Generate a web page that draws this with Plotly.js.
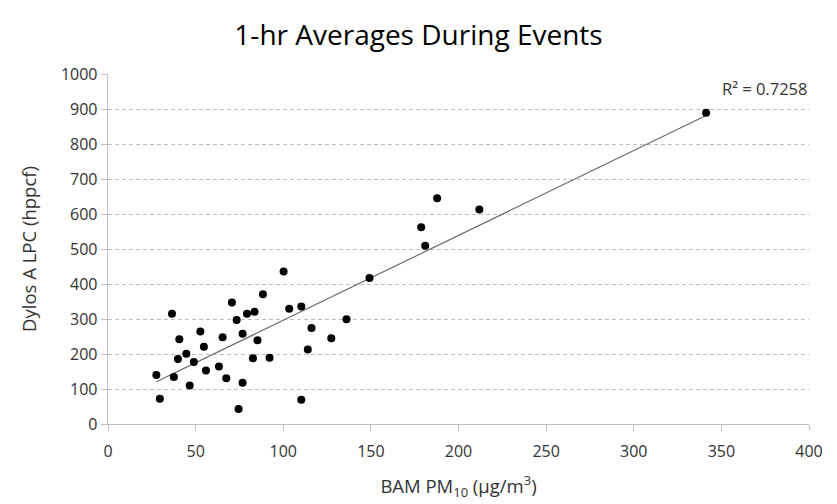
<!DOCTYPE html>
<html>
<head>
<meta charset="utf-8">
<script src="https://cdn.plot.ly/plotly-3.0.1.min.js"></script>
<style>html,body{margin:0;padding:0;background:#fff;}</style>
</head>
<body>
<div id="chart" style="width:837px;height:504px;"></div>
<script>
const bamPM10 = [27.6, 29.6, 36.5, 37.6, 39.9, 40.7, 44.7, 46.6, 49.0, 52.7,
  54.7, 55.9, 63.3, 65.4, 67.5, 70.7, 73.4, 74.5, 76.8, 76.8,
  79.3, 83.6, 82.7, 85.3, 88.4, 92.2, 100.2, 103.4, 110.3, 110.3,
  114.0, 116.1, 127.4, 136.1, 149.2, 178.7, 181.0, 187.8, 211.9, 341.3];
const dylosLPC = [140, 72, 315, 134, 186, 242, 201, 110, 177, 264,
  221, 153, 164, 248, 131, 347, 297, 43, 118, 258,
  315, 321, 188, 239, 371, 189, 436, 329, 336, 69,
  213, 274, 245, 299, 417, 562, 509, 645, 613, 889];
const r2Label = "R² = 0.7258";

// least-squares linear trendline
const n = bamPM10.length;
const mx = bamPM10.reduce((a,b)=>a+b,0)/n;
const my = dylosLPC.reduce((a,b)=>a+b,0)/n;
let sxy = 0, sxx = 0;
for (let i=0;i<n;i++){ sxy += (bamPM10[i]-mx)*(dylosLPC[i]-my); sxx += (bamPM10[i]-mx)**2; }
const slope = sxy/sxx, intercept = my - slope*mx;
const xMin = Math.min(...bamPM10), xMax = Math.max(...bamPM10);
const trendX = [xMin, xMax];
const trendY = trendX.map(x => intercept + slope*x);

const font = '"Open Sans", "Noto Sans", sans-serif';
const data = [
  {x: trendX, y: trendY, mode: 'lines', type: 'scatter',
   line: {color: '#6a6a6a', width: 1.2}, hoverinfo: 'skip'},
  {x: bamPM10, y: dylosLPC, mode: 'markers', type: 'scatter',
   marker: {color: '#000000', size: 8}}
];
const layout = {
  width: 837, height: 504,
  margin: {l: 108, r: 28, t: 74, b: 80},
  paper_bgcolor: '#ffffff', plot_bgcolor: '#ffffff',
  showlegend: false,
  font: {family: font, color: '#333333', size: 15},
  title: {text: '1-hr Averages During Events', x: 0.5, xanchor: 'center',
          y: 0.93, yanchor: 'middle', font: {family: font, size: 28, color: '#000000'}},
  xaxis: {range: [0, 400], dtick: 50, tick0: 0, showgrid: false, zeroline: false,
          showline: true, linecolor: '#bfbfbf', linewidth: 1.3,
          ticks: 'outside', ticklen: 6, tickcolor: '#bfbfbf',
          ticklabelstandoff: 6,
          tickfont: {size: 16, color: '#333333'},
          title: {text: 'BAM PM<sub>10</sub> (μg/m<sup>3</sup>)', standoff: 19,
                  font: {size: 18.5, color: '#333333'}}},
  yaxis: {range: [0, 1000], dtick: 100, tick0: 0, showgrid: true,
          gridcolor: '#bfbfbf', griddash: '4px,3px', gridwidth: 1, zeroline: false,
          showline: true, linecolor: '#bfbfbf', linewidth: 1.3,
          ticks: 'outside', ticklen: 6, tickcolor: '#bfbfbf',
          tickfont: {size: 16, color: '#333333'},
          title: {text: 'Dylos A LPC (hppcf)', standoff: 19,
                  font: {size: 18.5, color: '#333333'}}},
  annotations: [{text: r2Label, xref: 'paper', x: 1.0, xanchor: 'right',
                 yref: 'y', y: 960, yanchor: 'middle', showarrow: false,
                 font: {size: 16.5, color: '#333333'}}]
};
Plotly.newPlot('chart', data, layout, {displayModeBar: false, staticPlot: true});
</script>
</body>
</html>
